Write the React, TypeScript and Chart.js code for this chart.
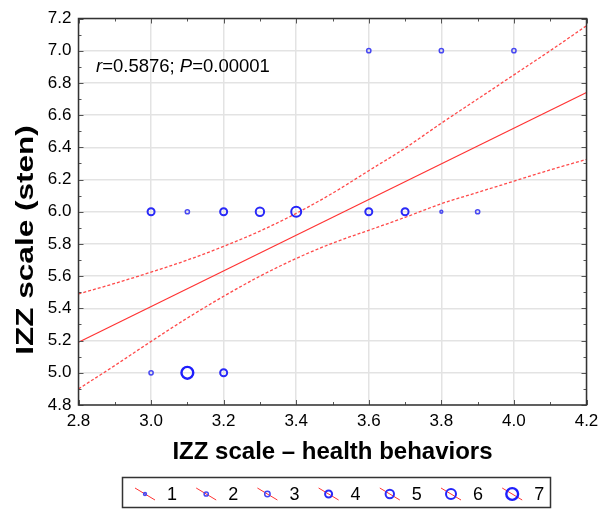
import React, { useEffect, useRef } from "react";
import { Chart, registerables } from "chart.js";

Chart.register(...registerables);

const FONT = "'Liberation Sans', Arial, Helvetica, sans-serif";

// Observations grouped by (x, y) with their frequency
const pointX = [3.6, 3.8, 4.0, 3.0, 3.1, 3.2, 3.3, 3.4, 3.6, 3.7, 3.8, 3.9, 3.0, 3.1, 3.2];
const pointY = [7.0, 7.0, 7.0, 6.0, 6.0, 6.0, 6.0, 6.0, 6.0, 6.0, 6.0, 6.0, 5.0, 5.0, 5.0];
const pointCount = [2, 2, 2, 4, 2, 4, 5, 6, 4, 4, 1, 2, 2, 7, 4];
const countLevels = [1, 2, 3, 4, 5, 6, 7];

// Regression line
const fitX = [2.8, 4.2];
const fitY = [5.19, 6.74];

// 95% confidence band
const bandX = [2.8, 2.9, 3.0, 3.1, 3.2, 3.3, 3.4, 3.5, 3.6, 3.7, 3.8, 3.9, 4.0, 4.1, 4.2];
const bandUpper = [5.49, 5.555, 5.625, 5.7, 5.785, 5.88, 5.99, 6.115, 6.255, 6.395, 6.55, 6.7, 6.85, 7.0, 7.155];
const bandLower = [4.9, 5.045, 5.195, 5.34, 5.475, 5.6, 5.71, 5.805, 5.885, 5.965, 6.05, 6.12, 6.19, 6.26, 6.325];

const statsLabel = [
  { text: "r", italic: true },
  { text: "=0.5876; ", italic: false },
  { text: "P", italic: true },
  { text: "=0.00001", italic: false },
];

const xTitle = "IZZ scale \u2013 health behaviors";
const yTitle = "IZZ scale (sten)";

// marker look per frequency level
const levelRadius = [1.4, 2.1, 2.7, 3.5, 4.2, 5.0, 5.9];
const levelWidth = [1.6, 1.5, 1.5, 2, 2, 2, 2.4];
const levelColor = ["#4b4bf0", "#4848f2", "#4343f4", "#2a2af8", "#2a2af8", "#2424fa", "#1e1efc"];

const RED = "#ff3333";

const decorPlugin = {
  id: "decor",
  afterDraw(chart: any) {
    const { ctx, chartArea: a, scales } = chart;
    const xs = scales.x;
    const ys = scales.y;
    ctx.save();

    const seg = (x1: number, y1: number, x2: number, y2: number) => {
      ctx.beginPath();
      ctx.moveTo(x1, y1);
      ctx.lineTo(x2, y2);
      ctx.stroke();
    };

    // inward tick marks on all four edges
    ctx.strokeStyle = "#555";
    ctx.lineWidth = 1;
    for (let i = 0; i <= 14; i++) {
      const px = Math.round(xs.getPixelForValue(2.8 + i * 0.1)) + 0.5;
      const len = i % 2 === 0 ? 5 : 3;
      seg(px, a.bottom, px, a.bottom - len);
      seg(px, a.top, px, a.top + len);
    }
    for (let i = 0; i <= 24; i++) {
      const py = Math.round(ys.getPixelForValue(4.8 + i * 0.1)) + 0.5;
      const len = i % 2 === 0 ? 5 : 3;
      seg(a.left, py, a.left + len, py);
      seg(a.right, py, a.right - len, py);
    }

    // plot frame
    ctx.strokeStyle = "#333";
    ctx.lineWidth = 1.5;
    ctx.strokeRect(a.left, a.top, a.right - a.left, a.bottom - a.top);

    // correlation annotation
    ctx.fillStyle = "#000";
    ctx.textBaseline = "alphabetic";
    ctx.textAlign = "left";
    let tx = 96;
    for (const part of statsLabel) {
      ctx.font = `${part.italic ? "italic " : ""}18.5px ${FONT}`;
      ctx.fillText(part.text, tx, 72);
      tx += ctx.measureText(part.text).width;
    }

    // axis titles
    ctx.font = `bold 24px ${FONT}`;
    ctx.textAlign = "center";
    ctx.textBaseline = "middle";
    ctx.fillText(xTitle, (a.left + a.right) / 2, 452);
    ctx.save();
    ctx.font = `bold 23px ${FONT}`;
    ctx.translate(27, 240);
    ctx.rotate(-Math.PI / 2);
    ctx.scale(1.37, 1);
    ctx.fillText(yTitle, 0, 0);
    ctx.restore();

    // frequency legend
    ctx.strokeStyle = "#333";
    ctx.lineWidth = 1.5;
    ctx.strokeRect(122.5, 477.5, 428, 30);
    ctx.font = `18px ${FONT}`;
    ctx.textAlign = "left";
    countLevels.forEach((lvl, i) => {
      const cx = 145 + i * 61.2;
      const cy = 494;
      ctx.strokeStyle = RED;
      ctx.lineWidth = 1;
      seg(cx - 10, cy - 6, cx + 10, cy + 6);
      ctx.strokeStyle = levelColor[i];
      ctx.lineWidth = levelWidth[i];
      ctx.beginPath();
      ctx.arc(cx, cy, levelRadius[i], 0, Math.PI * 2);
      ctx.stroke();
      ctx.fillStyle = "#000";
      ctx.fillText(String(lvl), cx + 22, cy + 1);
    });

    ctx.restore();
  },
};

export default function App() {
  const canvasRef = useRef<HTMLCanvasElement | null>(null);

  useEffect(() => {
    const canvas = canvasRef.current;
    if (!canvas) return;

    const scatterSets = countLevels.map((lvl, i) => ({
      type: "scatter" as const,
      label: String(lvl),
      data: pointX
        .map((x, j) => ({ x, y: pointY[j], n: pointCount[j] }))
        .filter((p) => p.n === lvl)
        .map((p) => ({ x: p.x, y: p.y })),
      pointRadius: levelRadius[i],
      pointHoverRadius: levelRadius[i],
      pointBorderWidth: levelWidth[i],
      pointBorderColor: levelColor[i],
      pointBackgroundColor: "rgba(0,0,0,0)",
      order: 0,
    }));

    const chart = new Chart(canvas, {
      type: "scatter",
      data: {
        datasets: [
          ...scatterSets,
          {
            type: "line" as const,
            label: "fit",
            data: fitX.map((x, j) => ({ x, y: fitY[j] })),
            borderColor: RED,
            borderWidth: 1.2,
            pointRadius: 0,
            fill: false,
            order: 1,
          },
          {
            type: "line" as const,
            label: "upper",
            data: bandX.map((x, j) => ({ x, y: bandUpper[j] })),
            borderColor: "#ff4a4a",
            borderWidth: 1.3,
            borderDash: [3, 2],
            pointRadius: 0,
            cubicInterpolationMode: "monotone" as const,
            fill: false,
            order: 1,
          },
          {
            type: "line" as const,
            label: "lower",
            data: bandX.map((x, j) => ({ x, y: bandLower[j] })),
            borderColor: "#ff4a4a",
            borderWidth: 1.3,
            borderDash: [3, 2],
            pointRadius: 0,
            cubicInterpolationMode: "monotone" as const,
            fill: false,
            order: 1,
          },
        ] as any,
      },
      options: {
        responsive: false,
        animation: false,
        events: [],
        layout: { padding: { top: 18.5, left: 0, right: 20.5, bottom: 0 } },
        plugins: {
          legend: { display: false },
          tooltip: { enabled: false },
        },
        scales: {
          x: {
            type: "linear",
            min: 2.8,
            max: 4.2,
            afterFit: (s: any) => {
              s.height = 105;
            },
            ticks: {
              stepSize: 0.2,
              padding: 6,
              color: "#000",
              font: { family: FONT, size: 17 },
              callback: (v: any) => Number(v).toFixed(1),
            },
            grid: { color: "#e3e3e3", lineWidth: 1.5, drawTicks: false },
            border: { display: false },
          },
          y: {
            type: "linear",
            min: 4.8,
            max: 7.2,
            afterFit: (s: any) => {
              s.width = 78.5;
            },
            ticks: {
              stepSize: 0.2,
              padding: 7,
              color: "#000",
              font: { family: FONT, size: 17 },
              callback: (v: any) => Number(v).toFixed(1),
            },
            grid: { color: "#e3e3e3", lineWidth: 1.5, drawTicks: false },
            border: { display: false },
          },
        },
      } as any,
      plugins: [decorPlugin],
    });

    return () => chart.destroy();
  }, []);

  return (
    <div style={{ position: "fixed", left: 0, top: 0, width: 607, height: 510, background: "#fff" }}>
      <canvas ref={canvasRef} width={607} height={510} style={{ display: "block" }} />
    </div>
  );
}
